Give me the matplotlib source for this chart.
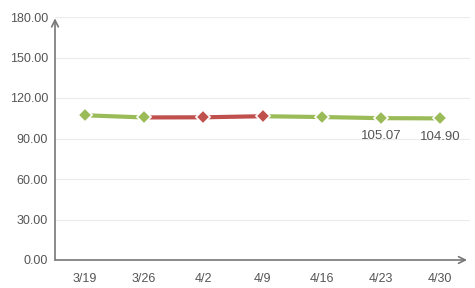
import matplotlib.pyplot as plt
import numpy as np

plt.rcParams['font.family'] = ['Liberation Sans', 'DejaVu Sans']

dates = ["3/19", "3/26", "4/2", "4/9", "4/16", "4/23", "4/30"]
values = [107.2, 105.6, 105.7, 106.5, 105.9, 105.07, 104.90]
labelled = [5, 6]

up_color = "#c0504d"
down_color = "#9bbb59"
axis_color = "#777777"
text_color = "#555555"

fig = plt.figure(figsize=(4.75, 2.88), dpi=100)
ax = fig.add_axes([55 / 475, 28 / 288, 415 / 475, 243 / 288])

x = np.arange(len(dates))

# colour each point/segment by direction of change
colors = [down_color]
for i in range(1, len(values)):
    colors.append(up_color if values[i] >= values[i - 1] else down_color)

for i in range(1, len(values)):
    ax.plot(x[i - 1:i + 1], values[i - 1:i + 1], color=colors[i], lw=3,
            solid_capstyle='butt', zorder=2)
for i in range(len(values)):
    ax.plot(x[i], values[i], marker='D', ms=7.5, color=colors[i],
            mec='white', mew=1.2, zorder=3)

for i in labelled:
    ax.text(x[i], values[i] - 9, f"{values[i]:.2f}", ha='center', va='top',
            fontsize=9.5, color=text_color)

ax.set_xlim(-0.5, 6.5)
ax.set_ylim(0, 180)
ax.set_yticks(np.arange(0, 181, 30))
ax.set_yticklabels([f"{v:.2f}" for v in np.arange(0, 181, 30)])
ax.set_xticks(x)
ax.set_xticklabels(dates)
ax.tick_params(length=0, labelsize=9, colors=text_color)
ax.tick_params(axis='y', pad=5)
ax.tick_params(axis='x', pad=9)

ax.grid(axis='y', color='#ebebeb', lw=0.8)
ax.set_axisbelow(True)
for s in ax.spines.values():
    s.set_visible(False)

# axes with arrows
ax.annotate('', xy=(6.45, 0), xytext=(-0.5, 0),
            arrowprops=dict(arrowstyle='->', color=axis_color, lw=1.2,
                            shrinkA=0, shrinkB=0, mutation_scale=12),
            annotation_clip=False)
ax.annotate('', xy=(-0.5, 179), xytext=(-0.5, 0),
            arrowprops=dict(arrowstyle='->', color=axis_color, lw=1.2,
                            shrinkA=0, shrinkB=0, mutation_scale=12),
            annotation_clip=False)

fig.savefig("out.png", dpi=100)
